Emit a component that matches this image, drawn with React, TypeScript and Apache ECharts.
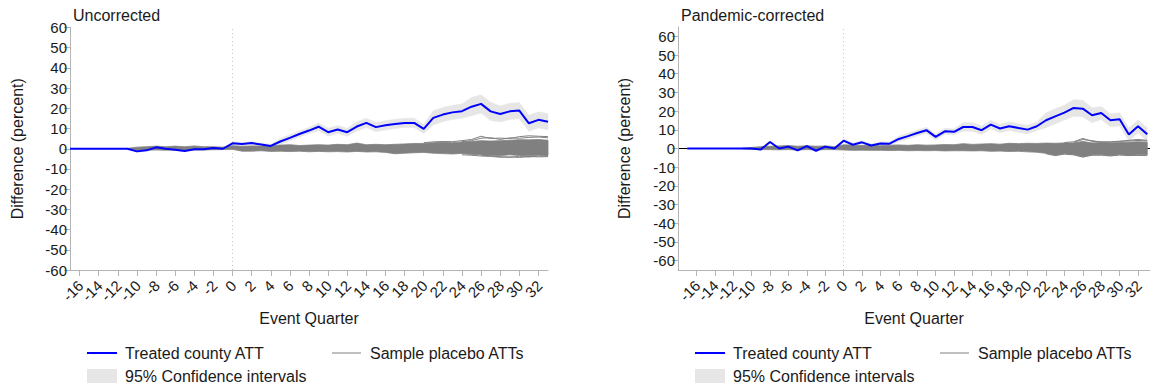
import React, { useEffect, useRef } from "react";
import * as echarts from "echarts";

// Event quarters (shared by both panels)
const quarters: number[] = [
  -17, -16, -15, -14, -13, -12, -11, -10, -9, -8, -7, -6, -5, -4, -3, -2, -1,
  0, 1, 2, 3, 4, 5, 6, 7, 8, 9, 10, 11, 12, 13, 14, 15, 16, 17, 18, 19, 20,
  21, 22, 23, 24, 25, 26, 27, 28, 29, 30, 31, 32, 33,
];
const xTicks: number[] = [-16, -14, -12, -10, -8, -6, -4, -2, 0, 2, 4, 6, 8, 10, 12, 14, 16, 18, 20, 22, 24, 26, 28, 30, 32];
const yTicks: number[] = [-60, -50, -40, -30, -20, -10, 0, 10, 20, 30, 40, 50, 60];

// ---------- Uncorrected ----------
const uAtt: (number | null)[] = [
  0, 0, 0, 0, 0, 0, 0, -1.3, -0.8, 0.7, 0, -0.5, -1.1, -0.3, -0.3, 0.4, 0,
  2.7, 2.3, 2.8, 2.1, 1.4, 3.6, 5.4, 7.3, 9, 10.9, 8.2, 9.5, 8.2, 11, 12.8, 10.7, 11.6, 12.3, 12.8, 12.8, 9.8,
  15.3, 16.9, 18, 18.6, 20.8, 22.2, 18.5, 17.2, 18.5, 18.9, 12.6, 14.3, 13.4,
];
const uCiLow: (number | null)[] = [
  0, 0, 0, 0, 0, 0, 0, -1.8, -1.3, 0.2, -0.5, -1.0, -1.6, -0.8, -0.8, -0.1, -0.5,
  1.9, 1.5, 2.0, 1.3, 0.6, 2.1, 3.9, 5.8, 7.5, 8.9, 6.2, 7.5, 6.2, 8.7, 10.5, 8.4, 9.3, 10.0, 10.5, 10.5, 7.5,
  11.8, 13.4, 14.5, 15.1, 16.3, 17.7, 14.0, 13.2, 14.5, 14.9, 8.6, 10.3, 9.4,
];
const uCiHigh: (number | null)[] = [
  0, 0, 0, 0, 0, 0, 0, -0.8, -0.3, 1.2, 0.5, 0.0, -0.6, 0.2, 0.2, 0.9, 0.5,
  3.5, 3.1, 3.6, 2.9, 2.2, 5.1, 6.9, 8.8, 10.5, 12.9, 10.2, 11.5, 10.2, 13.3, 15.1, 13.0, 13.9, 14.6, 15.1, 15.1, 12.1,
  18.8, 20.4, 21.5, 22.1, 25.3, 26.7, 23.0, 21.2, 22.5, 22.9, 16.6, 18.3, 17.4,
];
const uPlaceboLow: (number | null)[] = [
  null, null, null, null, null, null, -0.2, -0.8, -0.7, -0.6, -0.7, -0.6, -0.8, -0.6, -0.6, -0.5, -0.4,
  -0.3, -1.2, -1.2, -1.0, -1.3, -1.2, -1.4, -1.2, -1.5, -1.3, -1.5, -1.4, -1.6, -1.3, -1.6, -1.5, -1.8, -2.5, -2.2, -2.0, -1.8,
  -2.2, -2.4, -2.6, -2.3, -2.8, -3.0, -3.2, -3.4, -3.0, -3.3, -3.5, -3.2, -3.4,
];
const uPlaceboHigh: (number | null)[] = [
  null, null, null, null, null, null, 0.2, 0.8, 1.0, 1.3, 1.0, 1.3, 1.0, 1.4, 1.0, 1.0, 0.8,
  1.5, 1.2, 1.4, 1.3, 1.5, 1.8, 2.0, 1.6, 1.8, 2.0, 1.8, 2.2, 2.0, 2.8, 2.0, 2.2, 2.0, 2.2, 2.4, 2.6, 2.6,
  3.0, 3.2, 3.0, 3.4, 3.6, 4.0, 3.8, 4.0, 4.2, 4.5, 4.4, 4.6, 4.2,
];
const uPlaceboHi1: (number | null)[] = [
  null, null, null, null, null, null, null, null, null, null, null, null, null, null, null, null, null,
  null, null, null, null, null, null, null, null, null, null, null, null, null, null, null, null, null, null, null, null, 3.0,
  3.4, 3.6, 3.5, 4.0, 4.6, 6.2, 5.0, 5.3, 5.0, 6.0, 6.4, 6.2, 6.0,
];
const uPlaceboHi2: (number | null)[] = [
  null, null, null, null, null, null, null, null, null, null, null, null, null, null, null, null, null,
  null, null, null, null, null, null, null, null, null, null, null, null, null, null, null, null, null, null, null, null, null,
  null, null, null, 3.5, 4.0, 5.2, 5.5, 4.6, 5.4, 5.2, 5.6, 5.8, 5.4,
];
const uPlaceboLo1: (number | null)[] = [
  null, null, null, null, null, null, null, null, null, null, null, null, null, null, null, null, null,
  null, null, null, null, null, null, null, null, null, null, null, null, null, null, null, null, null, null, null, null, null,
  null, null, null, -3.0, -3.2, -3.6, -3.8, -4.2, -4.0, -4.3, -3.8, -4.0, -3.9,
];
const uPlaceboLo2: (number | null)[] = [
  null, null, null, null, null, null, null, null, null, null, null, null, null, null, null, null, null,
  null, null, null, null, null, null, null, null, null, null, null, null, null, null, null, null, null, null, null, null, null,
  null, null, null, null, null, -3.2, -3.5, -3.9, -4.3, -3.7, -4.1, -3.6, -3.6,
];

// ---------- Pandemic-corrected ----------
const pAtt: (number | null)[] = [
  0, 0, 0, 0, 0, 0, 0, 0, -0.5, 3.5, 0, 1, -1, 1.3, -1.2, 1, 0,
  4.2, 2, 3.3, 1.6, 2.7, 2.6, 5.1, 6.6, 8.3, 9.8, 6.2, 9.2, 8.9, 11.5, 11.5, 9.8, 12.8, 10.7, 11.9, 11, 10.1,
  11.9, 15.1, 17.2, 19.2, 21.7, 21.3, 17.8, 19, 15.1, 15.6, 7.5, 11.9, 7.6,
];
const pCiLow: (number | null)[] = [
  0, 0, 0, 0, 0, 0, 0, 0, -1.1, 2.9, -0.6, 0.4, -1.6, 0.7, -1.8, 0.4, -0.6,
  3.3, 1.1, 2.4, 0.7, 1.8, 1.7, 3.5, 5.0, 6.7, 8.2, 4.6, 7.6, 7.3, 9.2, 9.2, 7.5, 10.5, 8.4, 9.6, 8.7, 7.8,
  9.6, 11.1, 13.2, 15.2, 17.2, 16.8, 13.8, 15.5, 11.6, 12.1, 4.0, 8.4, 4.1,
];
const pCiHigh: (number | null)[] = [
  0, 0, 0, 0, 0, 0, 0, 0, 0.1, 4.1, 0.6, 1.6, -0.4, 1.9, -0.6, 1.6, 0.6,
  5.1, 2.9, 4.2, 2.5, 3.6, 3.5, 6.7, 8.2, 9.9, 11.4, 7.8, 10.8, 10.5, 13.8, 13.8, 12.1, 15.1, 13.0, 14.2, 13.3, 12.4,
  14.2, 19.1, 21.2, 23.2, 26.2, 25.8, 21.8, 22.5, 18.6, 19.1, 11.0, 15.4, 11.1,
];
const pPlaceboLow: (number | null)[] = [
  null, null, null, null, null, null, -0.2, -0.5, -0.6, -0.6, -0.7, -0.6, -0.8, -0.6, -0.8, -0.6, -0.6,
  -0.8, -1.0, -0.9, -1.0, -1.0, -1.1, -1.0, -1.2, -1.1, -1.2, -1.1, -1.3, -1.2, -1.2, -1.3, -1.2, -1.5, -1.4, -1.6, -1.5, -1.8,
  -2.0, -2.6, -3.6, -2.8, -3.2, -4.4, -3.4, -3.2, -3.8, -3.2, -3.6, -3.4, -3.4,
];
const pPlaceboHigh: (number | null)[] = [
  null, null, null, null, null, null, 0.2, 0.6, 1.0, 1.2, 1.4, 1.6, 1.2, 1.5, 1.2, 1.4, 1.0,
  2.0, 1.8, 1.6, 1.8, 1.5, 1.8, 1.9, 1.7, 2.0, 1.8, 1.9, 2.1, 2.0, 2.6, 2.2, 2.4, 2.6, 2.3, 2.8, 2.6, 2.8,
  2.7, 2.9, 2.8, 3.0, 2.9, 3.8, 3.0, 3.2, 3.0, 3.2, 3.4, 3.6, 3.4,
];
const pPlaceboHi1: (number | null)[] = [
  null, null, null, null, null, null, null, null, null, null, null, null, null, null, null, null, null,
  null, null, null, null, null, null, null, null, null, null, null, null, null, null, null, null, null, null, null, null, null,
  null, null, null, 3.2, 3.6, 5.4, 3.8, 3.6, 3.4, 3.8, 4.4, 4.8, 4.4,
];
const pPlaceboHi2: (number | null)[] = [
  null, null, null, null, null, null, null, null, null, null, null, null, null, null, null, null, null,
  null, null, null, null, null, null, null, null, null, null, null, null, null, null, null, null, null, null, null, null, null,
  null, null, null, null, 3.2, 4.8, 4.2, 3.4, 3.6, 3.9, 4.0, 4.3, 4.0,
];
const pPlaceboLo1: (number | null)[] = [
  null, null, null, null, null, null, null, null, null, null, null, null, null, null, null, null, null,
  null, null, null, null, null, null, null, null, null, null, null, null, null, null, null, null, null, null, null, null, null,
  null, -2.8, -3.8, -3.0, -3.4, -4.6, -3.6, -3.6, -4.0, -3.5, -3.8, -3.7, -3.8,
];

const FONT = "'Liberation Sans', Arial, Helvetica, sans-serif";
const BLUE = "#0000ff";
const GRAY = "#808080";
const CI = "#e6e6e6";
const AXIS = "#b4b4b4";
const TEXT = "#1a1a1a";

type Arr = (number | null)[];

function pairs(ys: Arr): [number, number][] {
  const out: [number, number][] = [];
  quarters.forEach((q, i) => {
    const v = ys[i];
    if (v !== null && v !== undefined) out.push([q, v]);
  });
  return out;
}

// band drawn as one polygon through the axis scales (api.coord)
function bandSeries(idx: number, lo: Arr, hi: Arr, fill: string, stroke: string | null, z: number): any {
  const loPts = pairs(lo);
  const hiPts = pairs(hi);
  return {
    type: "custom",
    xAxisIndex: idx,
    yAxisIndex: idx,
    silent: true,
    z,
    data: hiPts,
    renderItem: (params: any, api: any) => {
      if (params.dataIndex !== 0) return null;
      const pts: number[][] = [];
      hiPts.forEach((p) => pts.push(api.coord(p)));
      for (let i = loPts.length - 1; i >= 0; i--) pts.push(api.coord(loPts[i]));
      return {
        type: "polygon",
        shape: { points: pts },
        style: stroke
          ? { fill, stroke, lineWidth: 0.8 }
          : { fill, stroke: fill, lineWidth: 0.5 },
      };
    },
  };
}

// rotated x tick labels, placed through the axis scale
function xLabelSeries(idx: number, yMin: number): any {
  return {
    type: "custom",
    xAxisIndex: idx,
    yAxisIndex: idx,
    silent: true,
    clip: false,
    z: 6,
    data: xTicks.map((t) => [t, yMin]),
    renderItem: (params: any, api: any) => {
      const p = api.coord([api.value(0), api.value(1)]);
      return {
        type: "text",
        x: p[0] + 1,
        y: p[1] + 13,
        rotation: Math.PI / 4,
        style: {
          text: String(api.value(0)),
          align: "right",
          verticalAlign: "middle",
          fontFamily: FONT,
          fontSize: 15,
          fill: TEXT,
        },
      };
    },
  };
}

function panelSeries(
  idx: number,
  yMin: number,
  att: Arr,
  ciLow: Arr,
  ciHigh: Arr,
  pLow: Arr,
  pHigh: Arr,
  extras: Arr[],
  zeroLine: boolean
): any[] {
  const base = { type: "line", xAxisIndex: idx, yAxisIndex: idx, symbol: "none", silent: true };
  const markData: any[] = [{ xAxis: 0, lineStyle: { color: "#c4c4c4", width: 1, type: [1, 3] } }];
  if (zeroLine) markData.unshift({ yAxis: 0, lineStyle: { color: "#000", width: 1, type: "solid" } });
  const series: any[] = [
    {
      ...base,
      name: "ref" + idx,
      data: [],
      z: 0,
      markLine: { silent: true, symbol: "none", label: { show: false }, data: markData, z: 0 },
    },
    bandSeries(idx, ciLow, ciHigh, CI, null, 1),
    bandSeries(idx, pLow, pHigh, GRAY, GRAY, 3),
  ];
  extras.forEach((e, k) => {
    series.push({
      ...base,
      name: "placebo" + idx + "_" + k,
      data: pairs(e),
      lineStyle: { width: 1, color: GRAY },
      z: 3,
    });
  });
  series.push({
    ...base,
    name: "att" + idx,
    data: pairs(att),
    lineStyle: { width: 2, color: BLUE },
    z: 5,
  });
  series.push(xLabelSeries(idx, yMin));
  return series;
}

function xAxis(idx: number, min: number, max: number): any {
  return {
    type: "value",
    gridIndex: idx,
    min,
    max,
    name: "Event Quarter",
    nameLocation: "middle",
    nameGap: 40,
    nameTextStyle: { fontFamily: FONT, fontSize: 16, color: TEXT },
    axisLine: { show: true, onZero: false, lineStyle: { color: AXIS, width: 1 } },
    axisTick: { show: true, length: 6, customValues: xTicks, lineStyle: { color: AXIS } },
    axisLabel: { show: false },
    splitLine: { show: false },
  };
}

function yAxis(idx: number, min: number, max: number, gap: number): any {
  return {
    type: "value",
    gridIndex: idx,
    min,
    max,
    name: "Difference (percent)",
    nameLocation: "middle",
    nameGap: gap,
    nameTextStyle: { fontFamily: FONT, fontSize: 16, color: TEXT },
    axisLine: { show: true, onZero: false, lineStyle: { color: AXIS, width: 1 } },
    axisTick: { show: true, length: 6, customValues: yTicks, lineStyle: { color: AXIS } },
    axisLabel: {
      customValues: yTicks,
      showMinLabel: true,
      showMaxLabel: true,
      margin: 3,
      fontFamily: FONT,
      fontSize: 15,
      color: TEXT,
    },
    splitLine: { show: false },
  };
}

function legend(offset: number): any[] {
  const ts = { fontFamily: FONT, fontSize: 16, fill: TEXT, verticalAlign: "middle" };
  return [
    { type: "line", shape: { x1: 87 + offset, y1: 353, x2: 117 + offset, y2: 353 }, style: { stroke: BLUE, lineWidth: 2 } },
    { type: "text", x: 125 + offset, y: 353, style: { ...ts, text: "Treated county ATT" } },
    { type: "line", shape: { x1: 332 + offset, y1: 353, x2: 361 + offset, y2: 353 }, style: { stroke: GRAY, lineWidth: 1 } },
    { type: "text", x: 370 + offset, y: 353, style: { ...ts, text: "Sample placebo ATTs" } },
    { type: "rect", shape: { x: 87 + offset, y: 369, width: 30, height: 14 }, style: { fill: CI } },
    { type: "text", x: 125 + offset, y: 376, style: { ...ts, text: "95% Confidence intervals" } },
  ];
}

export default function App() {
  const ref = useRef<HTMLDivElement>(null);
  useEffect(() => {
    document.body.style.margin = "0";
    if (!ref.current) return;
    const chart = echarts.init(ref.current, undefined, { renderer: "svg" });
    const titleStyle = { fontFamily: FONT, fontSize: 16, fill: TEXT, verticalAlign: "middle" };
    chart.setOption({
      animation: false,
      backgroundColor: "#ffffff",
      grid: [
        { left: 70, top: 27.5, width: 478, height: 242.5, containLabel: false },
        { left: 678, top: 27, width: 472, height: 243, containLabel: false },
      ],
      xAxis: [xAxis(0, -17, 33), xAxis(1, -18, 33.3)],
      yAxis: [yAxis(0, -60, 60, 45), yAxis(1, -65, 65, 46)],
      series: [
        ...panelSeries(0, -60, uAtt, uCiLow, uCiHigh, uPlaceboLow, uPlaceboHigh, [uPlaceboHi1, uPlaceboHi2, uPlaceboLo1, uPlaceboLo2], false),
        ...panelSeries(1, -65, pAtt, pCiLow, pCiHigh, pPlaceboLow, pPlaceboHigh, [pPlaceboHi1, pPlaceboHi2, pPlaceboLo1], true),
      ],
      graphic: [
        { type: "text", x: 73, y: 15, style: { ...titleStyle, text: "Uncorrected" } },
        { type: "text", x: 681, y: 15, style: { ...titleStyle, text: "Pandemic-corrected" } },
        ...legend(0),
        ...legend(608),
      ],
    });
    return () => chart.dispose();
  }, []);
  return <div ref={ref} style={{ width: 1151, height: 385 }} />;
}
